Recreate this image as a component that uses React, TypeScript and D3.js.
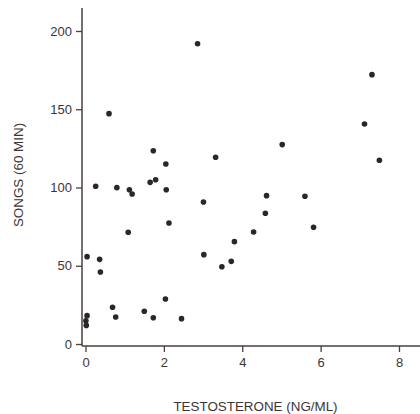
import React, { useEffect, useRef } from 'react';
import * as d3 from 'd3';

// testosterone (ng/ml) vs songs per 60 min
const testosterone = [
  2.86, 0.6, 0.26, 0.8, 1.12, 1.19, 1.65, 1.79, 1.73, 2.05, 2.06, 3.01,
  7.31, 7.12, 5.02, 3.32, 7.5, 4.62, 5.6,
  0.04, 0.36, 0.38, 1.09, 2.13, 3.02, 0.04, 0.01, 0.02, 0.69, 0.77, 1.5, 1.73, 2.04, 2.45,
  4.59, 5.82, 4.29, 3.8, 3.48, 3.72,
];
const songs = [
  191.9, 147.2, 100.8, 99.9, 98.6, 95.8, 103.3, 105.0, 123.5, 115.0, 98.6, 90.7,
  172.1, 140.6, 127.4, 119.3, 117.4, 94.8, 94.4,
  55.8, 54.1, 46.0, 71.4, 77.3, 57.1, 18.1, 14.9, 11.9, 23.5, 17.3, 20.9, 16.8, 28.8, 16.2,
  83.5, 74.6, 71.6, 65.4, 49.4, 52.8,
];
const xTicks = [0, 2, 4, 6, 8];
const yTicks = [0, 50, 100, 150, 200];

const App = () => {
  const svgRef = useRef<SVGSVGElement>(null);

  useEffect(() => {
    const svg = d3.select(svgRef.current);
    svg.selectAll('*').remove();

    const width = 420;
    const height = 414;
    const axisX = 82;
    const axisY = 346;
    const axisColor = '#4a3f3b';
    const textColor = '#3a3636';
    const font = "'Liberation Sans', Arial, sans-serif";

    const x = d3.scaleLinear().domain([0, 8]).range([85.5, 399]);
    const y = d3.scaleLinear().domain([0, 200]).range([344, 31]);

    svg.attr('viewBox', [0, 0, width, height]);

    // axis lines
    svg.append('line')
      .attr('x1', axisX).attr('x2', axisX)
      .attr('y1', 8).attr('y2', axisY)
      .attr('stroke', axisColor).attr('stroke-width', 1.5);
    svg.append('line')
      .attr('x1', axisX).attr('x2', width)
      .attr('y1', axisY).attr('y2', axisY)
      .attr('stroke', axisColor).attr('stroke-width', 1.5);

    svg.append('g')
      .attr('transform', `translate(${axisX},0)`)
      .call(d3.axisLeft(y).tickValues(yTicks).tickSize(6).tickPadding(4))
      .call(g => g.select('.domain').remove())
      .call(g => g.selectAll('.tick line').attr('stroke', axisColor).attr('stroke-width', 1.3))
      .call(g => g.selectAll('.tick text')
        .attr('fill', textColor)
        .attr('font-size', 13)
        .attr('font-family', font));

    svg.append('g')
      .attr('transform', `translate(0,${axisY})`)
      .call(d3.axisBottom(x).tickValues(xTicks).tickSize(6).tickPadding(6))
      .call(g => g.select('.domain').remove())
      .call(g => g.selectAll('.tick line').attr('stroke', axisColor).attr('stroke-width', 1.3))
      .call(g => g.selectAll('.tick text')
        .attr('fill', textColor)
        .attr('font-size', 13)
        .attr('font-family', font));

    svg.append('g')
      .selectAll('circle')
      .data(testosterone.map((t, i) => [t, songs[i]]))
      .join('circle')
      .attr('cx', d => x(d[0]))
      .attr('cy', d => y(d[1]))
      .attr('r', 2.8)
      .attr('fill', '#2b2627');

    svg.append('text')
      .attr('x', 255.5)
      .attr('y', 410.5)
      .attr('text-anchor', 'middle')
      .attr('fill', textColor)
      .attr('font-size', 13.4)
      .attr('font-family', font)
      .text('TESTOSTERONE (NG/ML)');

    svg.append('text')
      .attr('transform', 'translate(22.5,175) rotate(-90)')
      .attr('text-anchor', 'middle')
      .attr('fill', textColor)
      .attr('font-size', 13.4)
      .attr('font-family', font)
      .text('SONGS (60 MIN)');
  }, []);

  return (
    <svg
      ref={svgRef}
      width={420}
      height={414}
      style={{ position: 'absolute', left: 0, top: 0, background: '#fff' }}
    />
  );
};

export default App;
